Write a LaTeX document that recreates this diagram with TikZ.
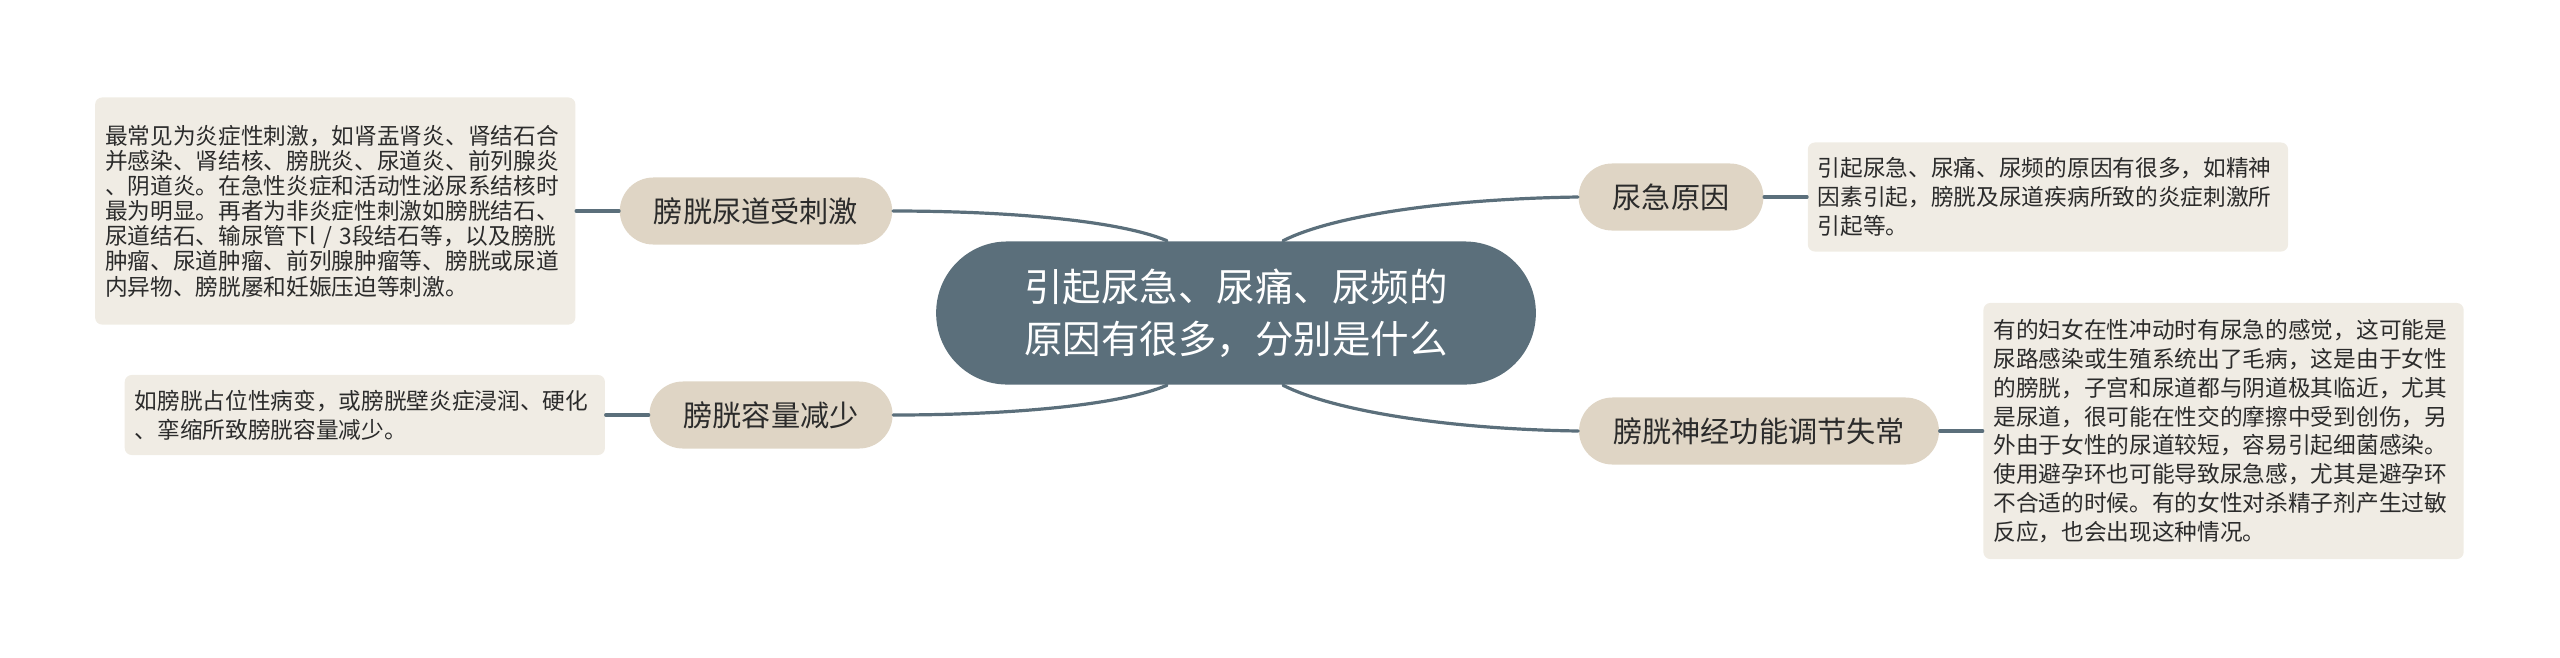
\documentclass[tikz,border=0pt]{standalone}
\usepackage{fontspec}
\setmainfont{Noto Sans CJK SC}
\usetikzlibrary{positioning}
\definecolor{slate}{HTML}{5B6F7B}
\definecolor{sand}{HTML}{DFD5C5}
\definecolor{paper}{HTML}{F0ECE4}
\definecolor{ink}{HTML}{2B2B2B}
\begin{document}
\begin{tikzpicture}[x=0.01cm,y=-0.01cm,line join=round,line cap=round,node distance=0.43cm,
	hub/.style={fill=slate,text=white,rounded corners=0.71cm,minimum height=1.43cm,inner xsep=0.88cm,inner ysep=0pt,align=center,font=\fontsize{10.95pt}{14.8pt}\selectfont},
	topic/.style={fill=sand,text=ink,rounded corners=0.335cm,minimum height=0.67cm,inner xsep=0.34cm,inner ysep=0pt,font=\fontsize{8.3pt}{10pt}\selectfont},
	note/.style={fill=paper,text=ink,rounded corners=0.07cm,text width=4.6cm,inner xsep=0.1cm,inner ysep=0pt,align=left,font=\fontsize{6.45pt}{8.2pt}\selectfont},
	branch/.style={draw=slate,line width=0.032cm}]
			\useasboundingbox (0,0) rectangle (2560,657);
			% centre and main branches
			\node[hub] (c) at (1236,313) {引起尿急、尿痛、尿频的\\原因有很多，分别是什么};
			\node[topic] (t1) at (756,211) {膀胱尿道受刺激};
			\node[topic] (t2) at (771,415) {膀胱容量减少};
			\node[topic] (t3) at (1671,197) {尿急原因};
			\node[topic] (t4) at (1759,431) {膀胱神经功能调节失常};
			% notes
			\node[note,left=of t1,minimum height=2.27cm,font=\fontsize{6.45pt}{7.15pt}\selectfont] (b1) {最常见为炎症性刺激，如肾盂肾炎、肾结石合\\并感染、肾结核、膀胱炎、尿道炎、前列腺炎\\、阴道炎。在急性炎症和活动性泌尿系结核时\\最为明显。再者为非炎症性刺激如膀胱结石、\\尿道结石、输尿管下l / 3段结石等，以及膀胱\\肿瘤、尿道肿瘤、前列腺肿瘤等、膀胱或尿道\\内异物、膀胱屡和妊娠压迫等刺激。};
			\node[note,left=of t2,minimum height=0.8cm] (b2) {如膀胱占位性病变，或膀胱壁炎症浸润、硬化\\、挛缩所致膀胱容量减少。};
			\node[note,right=of t3,minimum height=1.09cm] (b3) {引起尿急、尿痛、尿频的原因有很多，如精神\\因素引起，膀胱及尿道疾病所致的炎症刺激所\\引起等。};
			\node[note,right=of t4,minimum height=2.56cm] (b4) {有的妇女在性冲动时有尿急的感觉，这可能是\\尿路感染或生殖系统出了毛病，这是由于女性\\的膀胱，子宫和尿道都与阴道极其临近，尤其\\是尿道，很可能在性交的摩擦中受到创伤，另\\外由于女性的尿道较短，容易引起细菌感染。\\使用避孕环也可能导致尿急感，尤其是避孕环\\不合适的时候。有的女性对杀精子剂产生过敏\\反应，也会出现这种情况。};
			% connectors
			\draw[branch] (t1.east) .. controls +(117,0) and +(-47,-20) .. ([xshift=-0.69cm]c.north);
			\draw[branch] (t2.east) .. controls +(117,0) and +(-47,20) .. ([xshift=-0.69cm]c.south);
			\draw[branch] ([xshift=0.47cm]c.north) .. controls +(47,-24) and +(-138,2) .. (t3.west);
			\draw[branch] ([xshift=0.47cm]c.south) .. controls +(47,24) and +(-138,-2) .. (t4.west);
			\draw[branch] (t1.west)--(b1.east) (t2.west)--(b2.east) (t3.east)--(b3.west) (t4.east)--(b4.west);
		\end{tikzpicture}
\end{document}
